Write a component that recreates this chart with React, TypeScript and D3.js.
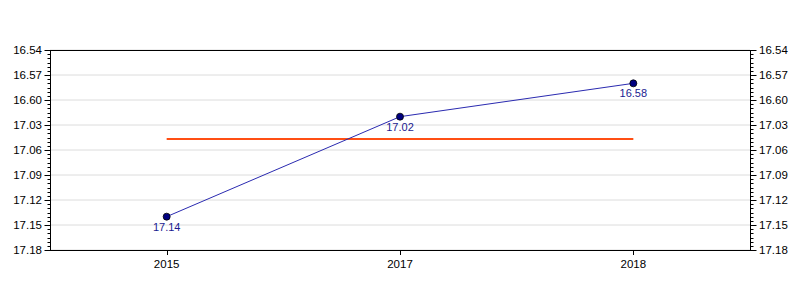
import React from "react";
import * as d3 from "d3";

const years = ["2015", "2017", "2018"];
const seconds = [1034, 1022, 1018]; // 17:14, 17:02, 16:58
const valueLabels = ["17.14", "17.02", "16.58"];
const yTickSeconds = [1014, 1017, 1020, 1023, 1026, 1029, 1032, 1035, 1038];

const W = 800, H = 300;
const M = { left: 50, right: 50, top: 50, bottom: 50 };

function fmt(s: number) {
  // odd labeling seen in reference: minutes + seconds where 60 shown as .60
  const m = Math.floor((s - 1) / 60);
  const sec = s - m * 60;
  return `${m}.${String(sec).padStart(2, "0")}`;
}

export default function App() {
  const x = d3.scalePoint<string>().domain(years).range([M.left, W - M.right]).padding(0.5);
  const y = d3.scaleLinear().domain([1014, 1038]).range([M.top, H - M.bottom]);
  const minor = d3.range(1014, 1038.01, 0.5);
  const mean = d3.mean(seconds) as number;
  const line = d3.line<number>().x((_, i) => x(years[i]) as number).y((d) => y(d));
  const font = "Liberation Sans, Arial, sans-serif";
  return (
    <svg width={W} height={H} style={{ position: "absolute", left: 0, top: 0 }} fontFamily={font}>
      <rect width={W} height={H} fill="#fff" />
      {yTickSeconds.map((t) => (
        <line key={"g" + t} x1={M.left} x2={W - M.right} y1={y(t)} y2={y(t)} stroke="#dcdcdc" strokeWidth={1} />
      ))}
      <rect x={M.left + 0.5} y={M.top + 0.5} width={W - M.left - M.right} height={H - M.top - M.bottom} fill="none" stroke="#000" />
      {minor.map((t) => {
        const major = yTickSeconds.includes(t);
        const len = major ? 6 : 3;
        const yy = Math.round(y(t)) + 0.5;
        return (
          <g key={"m" + t}>
            <line x1={M.left + 0.5 - len} x2={M.left + 0.5} y1={yy} y2={yy} stroke="#000" />
            <line x1={W - M.right + 0.5} x2={W - M.right + 0.5 + len} y1={yy} y2={yy} stroke="#000" />
          </g>
        );
      })}
      {yTickSeconds.map((t) => (
        <g key={"l" + t}>
          <text x={M.left - 8} y={y(t) + 4} textAnchor="end" fontSize={11.5} fill="#000">{fmt(t)}</text>
          <text x={W - M.right + 9} y={y(t) + 4} textAnchor="start" fontSize={11.5} fill="#000">{fmt(t)}</text>
        </g>
      ))}
      {years.map((yr) => (
        <g key={yr}>
          <line x1={Math.round(x(yr) as number) + 0.5} x2={Math.round(x(yr) as number) + 0.5} y1={H - M.bottom} y2={H - M.bottom + 5} stroke="#000" />
          <text x={x(yr)} y={H - M.bottom + 18} textAnchor="middle" fontSize={11.5} fill="#000">{yr}</text>
        </g>
      ))}
      <line x1={x(years[0])} x2={x(years[years.length - 1])} y1={y(mean)} y2={y(mean)} stroke="#ff4f14" strokeWidth={2} />
      <path d={line(seconds) || ""} fill="none" stroke="#2a2ab0" strokeWidth={1} />
      {seconds.map((s, i) => (
        <g key={"p" + i}>
          <circle cx={x(years[i])} cy={y(s)} r={3.5} fill="#000080" stroke="#000" strokeWidth={0.8} />
          <text x={x(years[i])} y={y(s) + 14} textAnchor="middle" fontSize={11} fill="#1a1a90">{valueLabels[i]}</text>
        </g>
      ))}
    </svg>
  );
}
